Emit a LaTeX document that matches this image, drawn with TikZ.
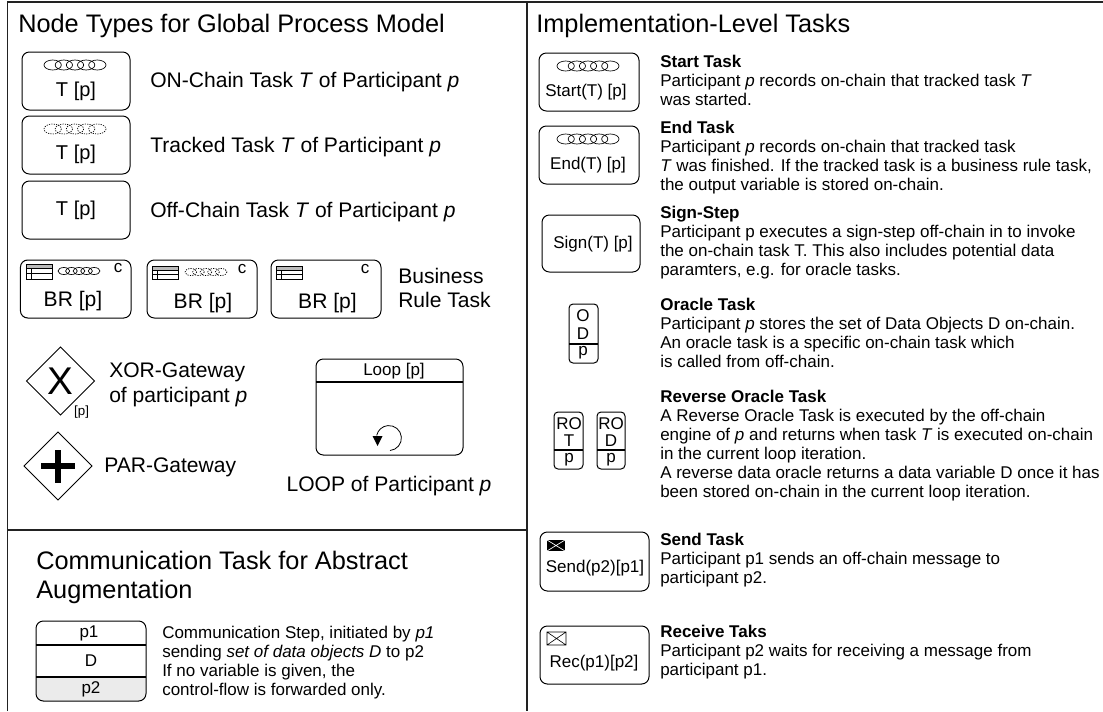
\documentclass[tikz,border=0pt]{standalone}
\usepackage{fontspec}
\setmainfont{Liberation Sans}
\usetikzlibrary{shapes.geometric}
\definecolor{framec}{HTML}{222222}
\definecolor{headgray}{HTML}{BBBBBB}
\definecolor{stepgray}{HTML}{EBEBEB}
\newcommand\ftitle{\fontsize{19}{22}\selectfont}
\newcommand\fbody{\fontsize{15.8}{18.5}\selectfont}
\newcommand\fnote{\fontsize{12.75}{14.2}\selectfont}
\newcommand\fcomm{\fontsize{12.75}{14.3}\selectfont}
\newcommand\fsmall{\fontsize{12.75}{14}\selectfont}
\tikzset{
  frameline/.style={draw=framec,line width=1.1pt},
  taskbox/.style={draw=black,line width=0.75pt,rounded corners=5.5pt,inner sep=0pt,outer sep=0pt},
  thinbox/.style={draw=black,line width=0.75pt,rounded corners=3pt,inner sep=0pt,outer sep=0pt},
  divline/.style={draw=black,line width=1.1pt},
  title/.style={anchor=west,inner sep=0pt,font=\ftitle},
  lab/.style={anchor=west,inner sep=0pt,font=\fbody,align=left},
  boxtext/.style={inner sep=0pt,font=\fontsize{15}{17}\selectfont},
  brtext/.style={inner sep=0pt,font=\fontsize{15.8}{17}\selectfont},
  smalltext/.style={inner sep=0pt,font=\fsmall},
  note/.style={anchor=north west,inner sep=0pt,font=\fnote,align=left},
  gate/.style={diamond,draw=black,line width=0.6pt,inner sep=0pt,outer sep=0pt,aspect=1},
  chainring/.style={draw=black,line width=0.5pt},
  dotring/.style={draw=black,line width=0.5pt,dash pattern=on 0.9pt off 0.9pt},
}
\newcommand\tbox[6][taskbox]{\node[#1,minimum width=(#5-#3)*0.75pt,minimum height=(#6-#4)*0.75pt] (#2) at ({(#3+#5)/2},{(#4+#6)/2}) {};}
% chain icon: style, centre x, centre y, total width, height
\newcommand\chainicon[5]{%
  \foreach \ci in {-2,-1,0,1,2}{%
    \draw[#1] ({#2+\ci*(#4*0.18)},#3) ellipse [x radius=#4*0.14,y radius=#5/2];}}
\newcommand\tableicon[4]{%
  \fill[headgray] (#1,#2) rectangle (#3,#2+4);
  \draw[line width=0.45pt] (#1,#2) rectangle (#3,#4);
  \draw[line width=0.45pt] (#1,#2+4) -- (#3,#2+4) (#1,{(#2+4+#4)/2}) -- (#3,{(#2+4+#4)/2}) (#1+5,#2+4) -- (#1+5,#4);}
\begin{document}
\begin{tikzpicture}[x=0.75pt,y=-0.75pt]
\useasboundingbox (0,0) rectangle (1103,711);
% frame
\coordinate (tl) at (7.5,2); \coordinate (tr) at (1103,2);
\coordinate (bl) at (7.5,711); \coordinate (tm) at (527,2); \coordinate (bm) at (527,711);
\coordinate (ml) at (7.5,530); \coordinate (mm) at (527,530);
\draw[frameline] (bl) -- (tl) -- (tr);
\draw[frameline] (tm) -- (bm);
\draw[frameline] (ml) -- (mm);
% left titles
\node[title] (t1) at (18,26) {Node Types for Global Process Model};
\node[title,anchor=north west,align=left] (t2) at (36,551) {Communication Task for Abstract\\Augmentation};
\node[title] (t3) at (536,26) {Implementation-Level Tasks};
% tasks
\tbox{b1}{22}{52}{130}{110}
\chainicon{chainring}{75}{65}{62}{10}
\node[boxtext] (b1t) at (76,91) {T [p]};
\tbox{b2}{22}{116}{130}{174}
\chainicon{dotring}{75}{129}{62}{10}
\node[boxtext] (b2t) at (76,154) {T [p]};
\tbox{b3}{22}{181}{130}{239}
\node[boxtext] (b3t) at (76,210) {T [p]};
\node[lab] (l1) at (150,82) {ON-Chain Task \textit{T} of Participant \textit{p}};
\node[lab] (l2) at (150,147) {Tracked Task \textit{T} of Participant \textit{p}};
\node[lab] (l3) at (150,212) {Off-Chain Task \textit{T} of Participant \textit{p}};
% BR
\tbox{br1}{20.4}{260}{131}{318}
\tableicon{26.5}{264}{52.5}{279}
\chainicon{chainring}{79}{271}{42}{7}
\node[smalltext] (c1) at (118,268) {c};
\node[brtext] (br1t) at (73,301) {BR [p]};
\tbox{br2}{147}{260}{257}{318}
\tableicon{152.4}{266}{178}{279}
\chainicon{dotring}{206}{272}{42}{7}
\node[smalltext] (c2) at (242,269) {c};
\node[brtext] (br2t) at (203,303) {BR [p]};
\tbox{br3}{271}{260}{381}{318}
\tableicon{276}{266}{302}{279}
\node[smalltext] (c3) at (365,269) {c};
\node[brtext] (br3t) at (327.5,303) {BR [p]};
\node[lab] (l4) at (398,288) {Business\\Rule Task};
% gateways
\node[gate,minimum width=68*0.75pt,minimum height=68*0.75pt] (xor) at (60.5,381) {};
\node[inner sep=0pt,font=\fontsize{29}{30}\selectfont] (xorx) at (60,381) {X};
\node[inner sep=0pt,font=\fontsize{10}{11}\selectfont] (xorp) at (81.6,412) {[p]};
\node[lab] (l5) at (109,385) {XOR-Gateway\\of participant \textit{p}};
\node[gate,minimum width=68*0.75pt,minimum height=68*0.75pt] (par) at (58,466) {};
\draw[line width=4pt] (41,466) -- (75,466) (58,450) -- (58,483);
\node[lab] (l6) at (104,467) {PAR-Gateway};
% loop
\tbox{loop}{316}{359}{463}{455}
\draw[divline] (316,382) -- (463,382);
\node[smalltext] (loopt) at (394,371) {Loop [p]};
\draw[line width=0.6pt] (390,450.5) arc[start angle=85,end angle=-168,radius=12.5];
\fill (377.5,446) -- (372.5,436) -- (382.5,436) -- cycle;
\node[inner sep=0pt,font=\fbody] (l7) at (389,486) {LOOP of Participant \textit{p}};
% communication
\fill[stepgray] (36,677) -- (146,677) [rounded corners=5.5pt] -- (146,701) -- (36,701) [sharp corners] -- cycle;
\tbox{comm}{36}{621}{146}{701}
\draw[divline] (36,645) -- (146,645) (36,677) -- (146,677);
\node[smalltext] (cp1) at (89,633) {p1};
\node[smalltext] (cd) at (91,661) {D};
\node[smalltext] (cp2) at (91,689) {p2};
\node[note,font=\fcomm] (l8) at (162,626) {Communication Step, initiated by \textit{p1}\\sending \textit{set of data objects D} to p2\\If no variable is given, the\\control-flow is forwarded only.};
% implementation
\tbox{st}{539}{53}{639}{111}
\chainicon{chainring}{588}{66}{62}{10}
\node[smalltext] (stt) at (586,92) {Start(T) [p]};
\tbox{en}{539}{126}{639}{184}
\chainicon{chainring}{588}{139}{62}{10}
\node[smalltext] (ent) at (588,165) {End(T) [p]};
\tbox{si}{542}{215}{640}{272}
\node[smalltext] (sit) at (593,244) {Sign(T) [p]};
% oracle
\tbox[thinbox]{or}{569}{304}{598}{363}
\draw[divline] (569,344) -- (598,344);
\node[smalltext] (oro) at (583,316) {O};
\node[smalltext] (ord) at (583,334) {D};
\node[smalltext] (orp) at (583,353) {p};
\tbox[thinbox]{ro1}{554}{412}{583}{469}
\draw[divline] (554,450) -- (583,450);
\node[smalltext] (ro1a) at (569,424) {RO};
\node[smalltext] (ro1b) at (569,441) {T};
\node[smalltext] (ro1c) at (569,460) {p};
\tbox[thinbox]{ro2}{597}{412}{625}{469}
\draw[divline] (597,450) -- (625,450);
\node[smalltext] (ro2a) at (611,424) {RO};
\node[smalltext] (ro2b) at (611,441) {D};
\node[smalltext] (ro2c) at (611,460) {p};
% send/receive
\tbox{se}{540}{532}{649}{591}
\fill (547,540) rectangle (565,551);
\draw[white,line width=0.5pt] (547,540) -- (565,551) (547,551) -- (565,540);
\node[smalltext] (set) at (595,568) {Send(p2)[p1]};
\tbox{re}{540}{626}{649}{684}
\draw[line width=0.45pt] (547,632) rectangle (566,645) (547,632) -- (566,645) (547,645) -- (566,632);
\node[smalltext] (ret) at (594,663) {Rec(p1)[p2]};
% notes
\node[note] (n1) at (660,55) {\textbf{Start Task}\\Participant \textit{p} records on-chain that tracked task \textit{T}\\was started.};
\node[note] (n2) at (660,121) {\textbf{End Task}\\Participant \textit{p} records on-chain that tracked task\\\textit{T} was finished. If the tracked task is a business rule task,\\the output variable is stored on-chain.};
\node[note] (n3) at (660,206) {\textbf{Sign-Step}\\Participant p executes a sign-step off-chain in to invoke\\the on-chain task T. This also includes potential data\\paramters, e.g. for oracle tasks.};
\node[note] (n4) at (660,298) {\textbf{Oracle Task}\\Participant \textit{p} stores the set of Data Objects D on-chain.\\An oracle task is a specific on-chain task which\\is called from off-chain.};
\node[note] (n5) at (660,390) {\textbf{Reverse Oracle Task}\\A Reverse Oracle Task is executed by the off-chain\\engine of \textit{p} and returns when task \textit{T} is executed on-chain\\in the current loop iteration.\\A reverse data oracle returns a data variable D once it has\\been stored on-chain in the current loop iteration.};
\node[note] (n6) at (660,533) {\textbf{Send Task}\\Participant p1 sends an off-chain message to\\participant p2.};
\node[note] (n7) at (660,625) {\textbf{Receive Taks}\\Participant p2 waits for receiving a message from\\participant p1.};
\end{tikzpicture}
\end{document}
